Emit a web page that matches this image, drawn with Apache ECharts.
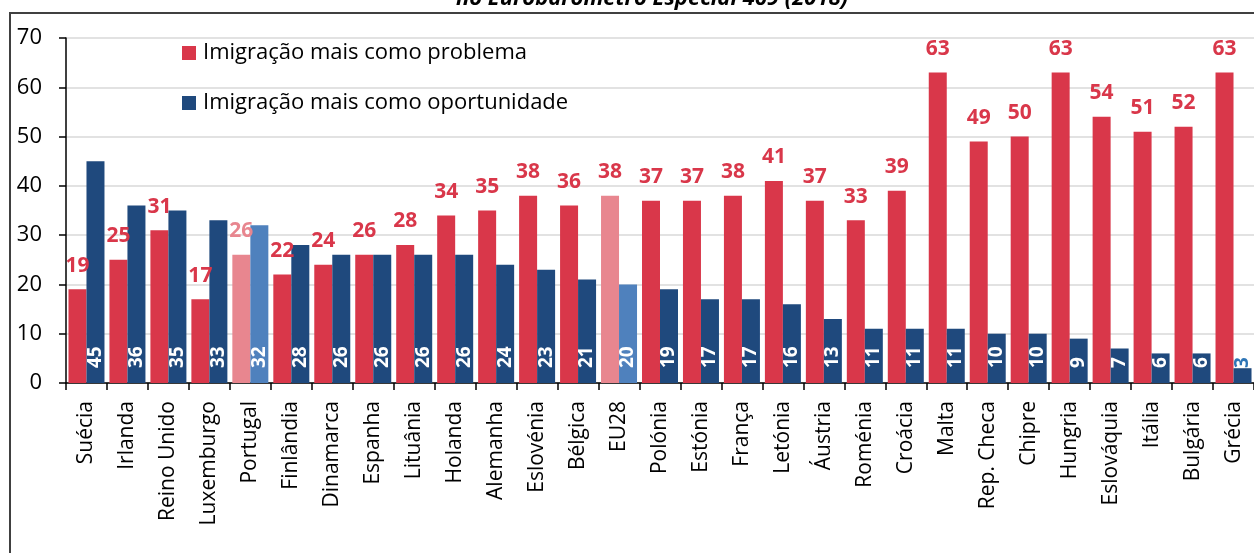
<!DOCTYPE html>
<html>
<head>
<meta charset="UTF-8">
<title>Imigração</title>
<script src="https://cdn.jsdelivr.net/npm/echarts@6/dist/echarts.min.js"></script>
<style>
  html, body { margin: 0; padding: 0; background: #fff; }
  #main { width: 1254px; height: 553px; }
</style>
</head>
<body>
<div id="main"></div>
<script>
var countries = ['Suécia', 'Irlanda', 'Reino Unido', 'Luxemburgo', 'Portugal', 'Finlândia', 'Dinamarca', 'Espanha',
    'Lituânia', 'Holanda', 'Alemanha', 'Eslovénia', 'Bélgica', 'EU28', 'Polónia', 'Estónia', 'França', 'Letónia',
    'Áustria', 'Roménia', 'Croácia', 'Malta', 'Rep. Checa', 'Chipre', 'Hungria', 'Eslováquia', 'Itália', 'Bulgária', 'Grécia'];
var problema = [19, 25, 31, 17, 26, 22, 24, 26, 28, 34, 35, 38, 36, 38, 37, 37, 38, 41, 37, 33, 39, 63, 49, 50, 63, 54, 51, 52, 63];
var oportunidade = [45, 36, 35, 33, 32, 28, 26, 26, 26, 26, 24, 23, 21, 20, 19, 17, 17, 16, 13, 11, 11, 11, 10, 10, 9, 7, 6, 6, 3];
var yTicks = [0, 10, 20, 30, 40, 50, 60, 70];
var destaque = ['Portugal', 'EU28'];

var vermelho = '#D9374A', vermelhoClaro = '#E8868F';
var azul = '#1F497D', azulClaro = '#4F81BD';
var fonte = '"Open Sans", "Noto Sans", sans-serif';

// barras de Portugal e EU28 com cor mais clara
var dadosProblema = problema.map(function (v, i) {
    var d = { value: v };
    if (destaque.indexOf(countries[i]) >= 0) {
        d.itemStyle = { color: vermelhoClaro };
        if (countries[i] === 'Portugal') d.label = { color: vermelhoClaro };
    }
    return d;
});
var dadosOportunidade = oportunidade.map(function (v, i) {
    var d = { value: v };
    if (destaque.indexOf(countries[i]) >= 0) d.itemStyle = { color: azulClaro };
    if (v < 5) d.label = { color: '#2E75B6' };
    return d;
});

var chart = echarts.init(document.getElementById('main'));
chart.setOption({
    animation: false,
    textStyle: { fontFamily: fonte },
    graphic: [
        { type: 'rect', shape: { x: 10, y: 13, width: 1300, height: 600 },
          style: { fill: 'none', stroke: '#404040', lineWidth: 2 }, silent: true },
        { type: 'text', x: 652, y: 10,
          style: { text: 'no Eurobarómetro Especial 469 (2018)', align: 'center', verticalAlign: 'bottom',
                   font: 'italic bold 22px ' + fonte, fill: '#000' } }
    ],
    legend: {
        orient: 'vertical',
        left: 177, top: 37,
        itemGap: 28,
        itemWidth: 14, itemHeight: 14,
        icon: 'rect',
        textStyle: { fontSize: 22, color: '#000', fontFamily: fonte, padding: [0, 0, 0, 2] },
        data: ['Imigração mais como problema', 'Imigração mais como oportunidade']
    },
    grid: { left: 66, right: -2, top: 38, bottom: 170, containLabel: false },
    xAxis: {
        type: 'category',
        data: countries,
        axisLine: { lineStyle: { color: '#000', width: 1.5 } },
        axisTick: { show: true, length: 7, lineStyle: { color: '#000', width: 1.5 } },
        axisLabel: { rotate: 90, margin: 18, fontSize: 21, color: '#000', interval: 0 }
    },
    yAxis: {
        type: 'value',
        min: yTicks[0], max: yTicks[yTicks.length - 1], interval: 10,
        axisLine: { show: true, lineStyle: { color: '#000', width: 1.5 } },
        axisTick: { show: true, length: 7, lineStyle: { color: '#000', width: 1.5 } },
        axisLabel: { fontSize: 22, color: '#000', margin: 24 },
        splitLine: { lineStyle: { color: '#D9D9D9', width: 1.5 } }
    },
    series: [
        {
            name: 'Imigração mais como problema',
            type: 'bar',
            barWidth: 18,
            barGap: '0%',
            itemStyle: { color: vermelho },
            label: { show: true, position: 'top', distance: 13, color: vermelho,
                     fontSize: 21, fontWeight: 'bold' },
            data: dadosProblema
        },
        {
            name: 'Imigração mais como oportunidade',
            type: 'bar',
            barWidth: 18,
            itemStyle: { color: azul },
            label: { show: true, position: 'insideBottom', rotate: 90, align: 'left', verticalAlign: 'middle',
                     distance: 15, color: '#fff', fontSize: 19, fontWeight: 'bold' },
            data: dadosOportunidade
        }
    ]
});
</script>
</body>
</html>
